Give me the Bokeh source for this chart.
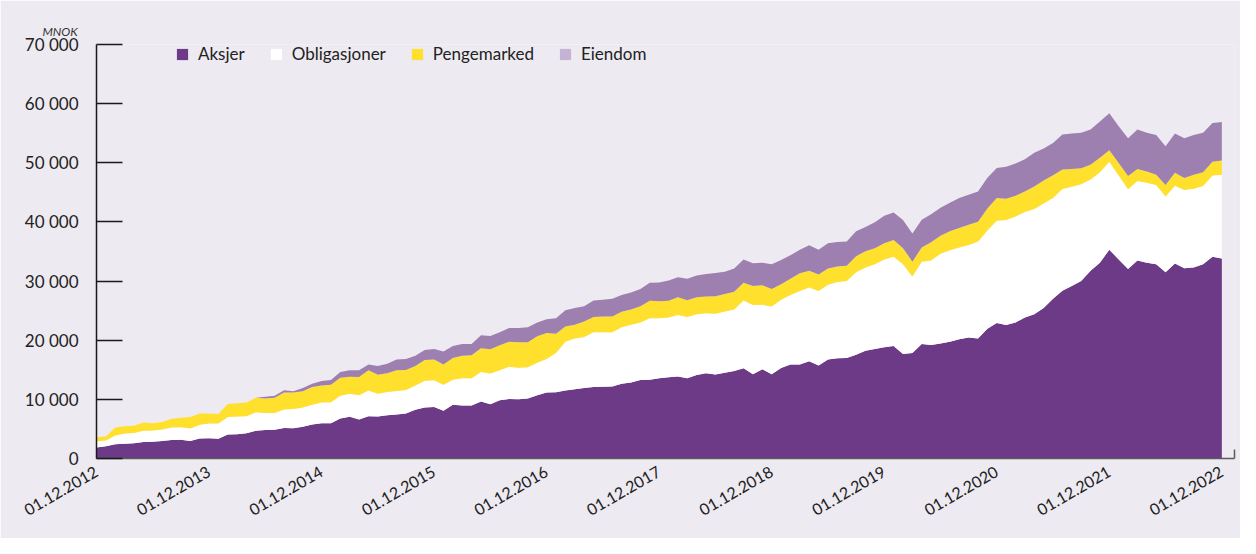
import math
from bokeh.plotting import figure
from bokeh.models import ColumnDataSource, Range1d, FixedTicker, Legend, LegendItem, Title
from bokeh.embed import file_html
from bokeh.resources import INLINE

# ---------------- data (MNOK, monthly from 01.12.2012 to 01.12.2022) ----------------
months = list(range(121))

aksjer = [
    1850, 2080, 2400, 2510, 2570, 2790, 2840, 2950, 3110, 3170, 2950, 3390,
    3440, 3330, 4050, 4100, 4260, 4700, 4810, 4860, 5150, 5130, 5360, 5740,
    5950, 5950, 6770, 7050, 6610, 7160, 7100, 7330, 7430, 7590, 8250, 8640,
    8690, 8080, 9070, 8970, 8970, 9620, 9180, 9840, 10050, 10000, 10160, 10710,
    11150, 11200, 11480, 11690, 11920, 12080, 12130, 12180, 12620, 12840, 13280, 13330,
    13580, 13720, 13880, 13550, 14100, 14430, 14210, 14480, 14810, 15250, 14260, 15080,
    14260, 15300, 15900, 15900, 16440, 15740, 16720, 16930, 17000, 17540, 18200, 18520,
    18800, 19020, 17650, 17820, 19340, 19180, 19460, 19720, 20160, 20440, 20280, 21920,
    22900, 22570, 23000, 23820, 24380, 25460, 27000, 28360, 29180, 30000, 31750, 33110,
    35300, 33660, 32020, 33490, 33110, 32840, 31480, 32950, 32180, 32290, 32840, 34100,
    33820,
]
obligasjoner = [
    1050, 980, 1480, 1700, 1750, 1910, 1910, 1970, 2140, 2130, 2130, 2300,
    2460, 2570, 2950, 3000, 2900, 3120, 2890, 2840, 3150, 3230, 3280, 3330,
    3510, 3560, 3830, 3880, 4100, 4320, 3830, 3930, 4000, 4000, 4100, 4520,
    4530, 4380, 4260, 4580, 4580, 5020, 5200, 5080, 5470, 5360, 5250, 5470,
    5680, 6620, 8240, 8590, 8620, 9280, 9230, 9180, 9560, 9780, 9720, 10390,
    10120, 10100, 10380, 10380, 10280, 10110, 10270, 10390, 10390, 11470, 11690, 10930,
    11430, 11540, 11760, 12410, 12460, 12570, 12670, 12910, 13000, 13940, 14090, 14320,
    14860, 15080, 15190, 12950, 13940, 14310, 15180, 15480, 15530, 15670, 16390, 16650,
    17310, 17760, 17930, 17870, 17820, 17650, 17050, 17210, 16770, 16390, 15410, 15300,
    14860, 14210, 13500, 13440, 13500, 13390, 12830, 13160, 13230, 13330, 13220, 13770,
    14160,
]
pengemarked = [
    700, 660, 1370, 1250, 1200, 1370, 1210, 1260, 1470, 1590, 1920, 1900,
    1690, 1640, 2230, 2240, 2290, 2450, 2460, 2570, 2850, 2790, 2730, 3010,
    2890, 2950, 3060, 2890, 3060, 3440, 3220, 3170, 3490, 3380, 3270, 3510,
    3500, 3440, 3670, 3830, 3900, 4000, 4090, 4210, 4200, 4300, 4250, 4480,
    4370, 3270, 2580, 2340, 2620, 2570, 2630, 2630, 2620, 2580, 2740, 2950,
    2900, 2850, 3000, 2840, 2880, 2840, 2950, 2950, 3000, 3000, 3230, 3280,
    2950, 2620, 2720, 3000, 2850, 2790, 2740, 2620, 2570, 2730, 2740, 2730,
    2730, 2830, 2730, 2510, 2410, 3070, 3010, 3210, 3280, 3400, 3380, 3680,
    3840, 3600, 3500, 3440, 3800, 3890, 3850, 3280, 3010, 2680, 2510, 2460,
    1970, 2080, 2240, 2030, 1910, 1750, 1920, 2200, 2020, 2360, 2350, 2290,
    2400,
]
eiendom = [
    0, 0, 0, 0, 0, 0, 0, 0, 0, 0, 0, 0,
    0, 0, 0, 0, 0, 0, 280, 330, 400, 220, 550, 540,
    760, 820, 980, 1100, 1150, 980, 1470, 1580, 1800, 1860, 1760, 1690,
    1800, 2180, 2020, 1960, 1890, 2180, 2230, 2230, 2360, 2420, 2530, 2340,
    2360, 2630, 2780, 2840, 2580, 2790, 2840, 3010, 2850, 2880, 2900, 3050,
    3150, 3440, 3400, 3610, 3670, 3820, 3930, 3770, 3930, 3940, 3820, 3820,
    4200, 4100, 4000, 3990, 4320, 4200, 4260, 4150, 4100, 4200, 4100, 4380,
    4640, 4660, 4760, 4750, 4690, 4750, 4760, 4820, 5080, 5080, 5080, 5240,
    5080, 5410, 5450, 5470, 5700, 5400, 5430, 5950, 6010, 6010, 5950, 6130,
    6230, 6230, 6390, 6660, 6560, 6720, 6560, 6660, 6720, 6720, 6670, 6560,
    6510,
]

series_names = ["Aksjer", "Obligasjoner", "Pengemarked", "Eiendom"]
x_tick_months = [0, 12, 24, 36, 48, 60, 72, 84, 96, 108, 120]
x_tick_labels = ["01.12.2012", "01.12.2013", "01.12.2014", "01.12.2015", "01.12.2016",
                 "01.12.2017", "01.12.2018", "01.12.2019", "01.12.2020", "01.12.2021",
                 "01.12.2022"]
y_ticks = [0, 10000, 20000, 30000, 40000, 50000, 60000, 70000]
y_tick_labels = ["0", "10 000", "20 000", "30 000", "40 000", "50 000", "60 000", "70 000"]
unit_label = "MNOK"

# ---------------- style ----------------
BG = "#edeaf1"
FONT = "Lato"
area_colors = ["#6c3a87", "#ffffff", "#ffe12d", "#9e80b0"]
legend_colors = ["#6c3a87", "#ffffff", "#ffe12d", "#c5b3d4"]

W, H = 1240, 538
source = ColumnDataSource(dict(x=months, Aksjer=aksjer, Obligasjoner=obligasjoner,
                               Pengemarked=pengemarked, Eiendom=eiendom))

x_end = 121.35
p = figure(width=W, height=H, output_backend="svg", toolbar_location=None,
           x_range=Range1d(0, x_end), y_range=Range1d(0, 70000),
           min_border_left=96, min_border_right=6, min_border_top=44, min_border_bottom=80,
           background_fill_color=BG, border_fill_color=BG, outline_line_color=None)

# unit label as a left-aligned title pulled over the y-axis labels
p.title = Title(text=unit_label, align="left", offset=-54, standoff=12,
                text_font=FONT, text_font_size="12px", text_font_style="italic",
                text_color="#333333")

p.varea_stack(stackers=series_names, x="x", color=area_colors, source=source)

p.xgrid.grid_line_color = None
p.ygrid.grid_line_color = None

# y axis
p.yaxis.ticker = FixedTicker(ticks=y_ticks)
p.yaxis.major_label_overrides = {t: l for t, l in zip(y_ticks, y_tick_labels)}
p.yaxis.axis_line_color = "#1a1a1a"
p.yaxis.axis_line_width = 1.5
p.yaxis.major_tick_line_color = "#1a1a1a"
p.yaxis.major_tick_line_width = 1.5
p.yaxis.major_tick_in = 26
p.yaxis.major_tick_out = 0
p.yaxis.minor_tick_line_color = None
p.yaxis.major_label_standoff = 18
p.yaxis.major_label_text_font = FONT
p.yaxis.major_label_text_font_size = "17px"
p.yaxis.major_label_text_color = "#222222"

# x axis
p.xaxis.ticker = FixedTicker(ticks=x_tick_months, minor_ticks=[x_end])
p.xaxis.major_label_overrides = {t: l for t, l in zip(x_tick_months, x_tick_labels)}
p.xaxis.axis_line_color = "#5a5a5a"
p.xaxis.axis_line_width = 1.5
p.xaxis.major_tick_line_color = None
p.xaxis.minor_tick_line_color = "#5a5a5a"
p.xaxis.minor_tick_line_width = 1.5
p.xaxis.minor_tick_in = 9
p.xaxis.minor_tick_out = 0
p.xaxis.major_label_orientation = math.pi / 6
p.xaxis.major_label_standoff = 6
p.xaxis.major_label_text_font = FONT
p.xaxis.major_label_text_font_size = "16px"
p.xaxis.major_label_text_color = "#222222"

# legend (swatches from zero-area renderers so the legend colours can be set)
items = []
for name, c in zip(series_names, legend_colors):
    dummy = ColumnDataSource(dict(x=[0], y1=[0], y2=[0]))
    r = p.varea(x="x", y1="y1", y2="y2", source=dummy, fill_color=c)
    items.append(LegendItem(label=name, renderers=[r]))
legend = Legend(items=items, orientation="horizontal", location=(79, 394),
                glyph_width=14, glyph_height=14, label_standoff=9, spacing=24,
                padding=0, margin=0, border_line_color=None, background_fill_alpha=0,
                label_text_font=FONT, label_text_font_size="17px",
                label_text_color="#222222", label_height=20)
p.add_layout(legend)

open("out.html", "w").write(file_html(p, INLINE))
